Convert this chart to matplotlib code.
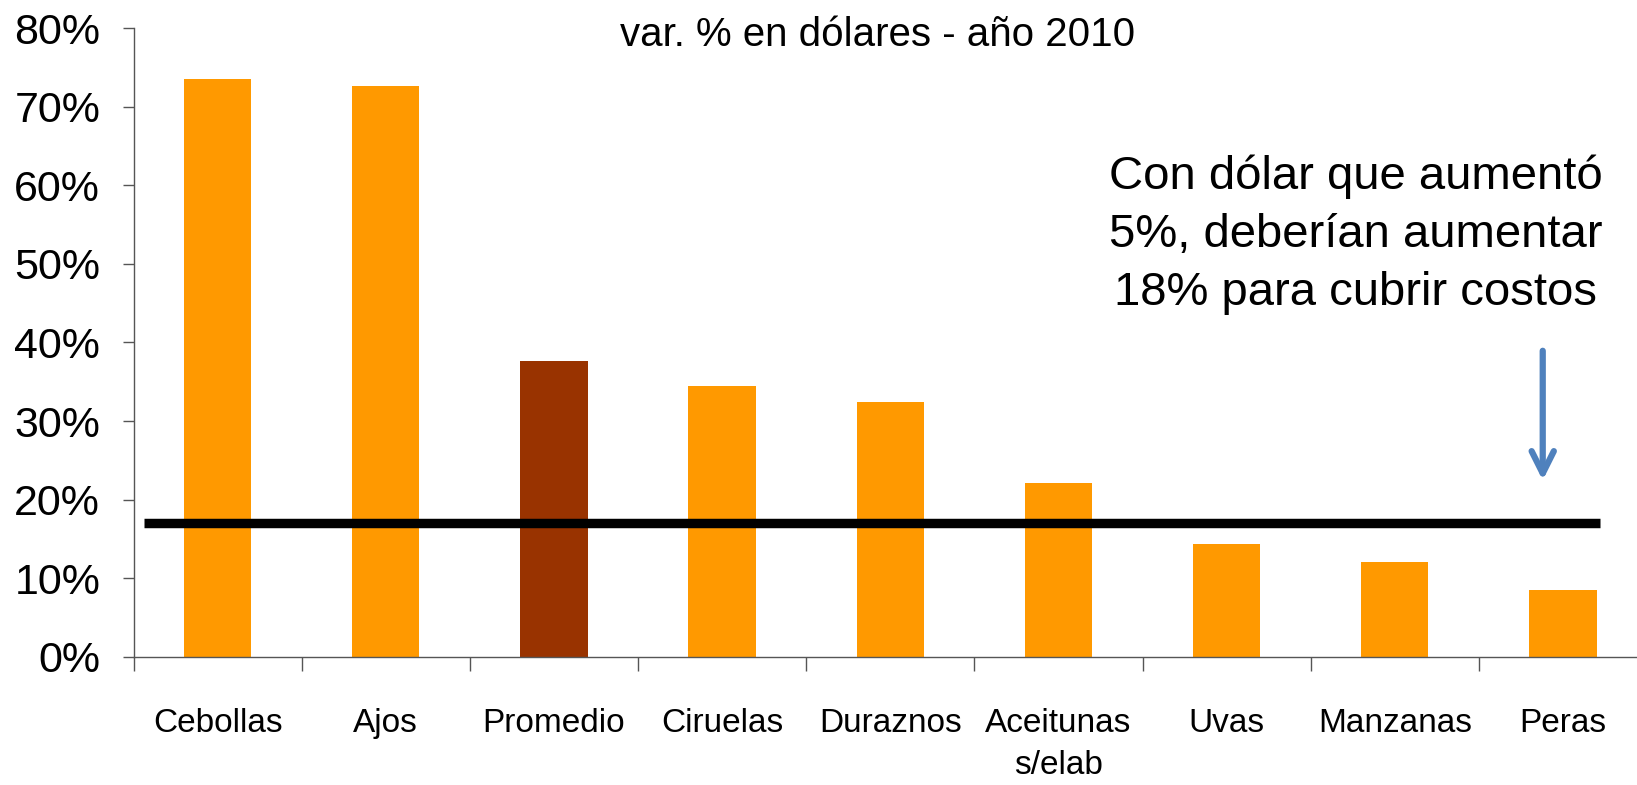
import numpy as np
import matplotlib.pyplot as plt
from matplotlib import font_manager

# Data
categories = ['Cebollas', 'Ajos', 'Promedio', 'Ciruelas', 'Duraznos',
              'Aceitunas\ns/elab', 'Uvas', 'Manzanas', 'Peras']
values = [73.6, 72.6, 37.7, 34.4, 32.4, 22.1, 14.4, 12.1, 8.5]
threshold = 17.0
bar_colors = ['#FF9900', '#FF9900', '#993300', '#FF9900', '#FF9900',
              '#FF9900', '#FF9900', '#FF9900', '#FF9900']

names = {f.name for f in font_manager.fontManager.ttflist}
narrow = 'Liberation Sans Narrow' if 'Liberation Sans Narrow' in names else 'Liberation Sans'

plt.rcParams['font.family'] = ['Liberation Sans', 'DejaVu Sans']

fig = plt.figure(figsize=(16.37, 7.85), dpi=100)
ax = fig.add_axes([0.0816, 0.1634, 0.9245, 0.8006])

x = np.arange(len(categories))
ax.bar(x, values, width=0.40, color=bar_colors, zorder=2)

# 18% reference line
ax.plot([-0.44, 8.22], [threshold, threshold], color='black', lw=6.8,
        solid_capstyle='butt', zorder=3)

ax.set_xlim(-0.5, 8.5)
ax.set_ylim(0, 80)
ax.set_yticks(np.arange(0, 81, 10))
ax.set_yticklabels([f'{v}%' for v in range(0, 81, 10)], fontsize=31)
ax.tick_params(axis='y', length=8, width=1, color='#555555', pad=16)

ax.set_xticks(np.arange(-0.5, 9, 1))
ax.set_xticklabels([])
ax.set_xticks(x, minor=True)
ax.set_xticklabels(categories, minor=True, fontsize=24, family=narrow,
                   linespacing=1.45)
ax.tick_params(axis='x', which='major', length=10, width=1, color='#555555')
ax.tick_params(axis='x', which='minor', length=0, pad=37)

for s in ['top', 'right']:
    ax.spines[s].set_visible(False)
for s in ['left', 'bottom']:
    ax.spines[s].set_color('#555555')
    ax.spines[s].set_linewidth(1)

fig.text(0.536, 0.955, 'var. % en dólares - año 2010', fontsize=29,
         ha='center', va='center')

fig.text(0.828, 0.701, 'Con dólar que aumentó\n5%, deberían aumentar\n18% para cubrir costos',
         fontsize=34, ha='center', va='center', linespacing=1.41)

ax.annotate('', xy=(7.88, 22.1), xytext=(7.88, 39.3),
            arrowprops=dict(arrowstyle='->', color='#4F81BD', lw=4.5,
                            mutation_scale=40))

fig.savefig('out.png', dpi=100)
